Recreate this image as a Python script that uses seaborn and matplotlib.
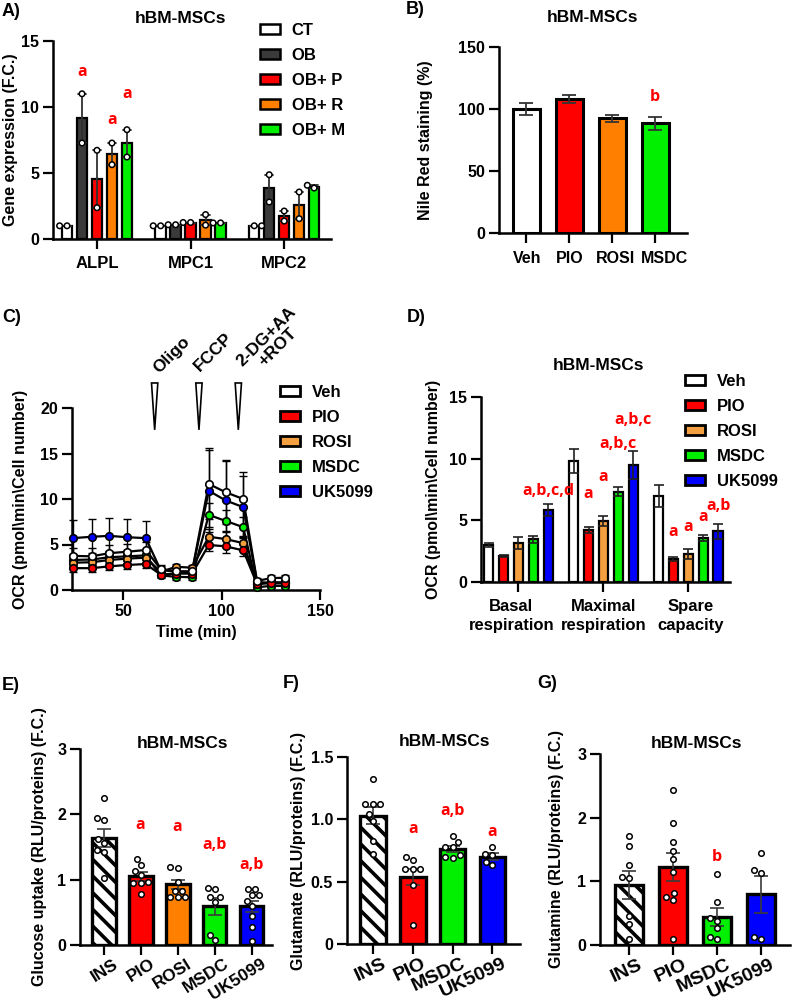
import matplotlib
matplotlib.use('Agg')
import matplotlib.pyplot as plt
import seaborn as sns
import pandas as pd
from matplotlib.patches import Patch
from matplotlib.transforms import ScaledTranslation

# ---------------- data ----------------
# Panel A : gene expression (two replicates per bar)
genes_A = ['ALPL', 'MPC1', 'MPC2']
groups_A = ['CT', 'OB', 'OB+ P', 'OB+ R', 'OB+ M']
colors_A = ['#FFFFFF', '#3A3A3A', '#FF0000', '#FF8000', '#00F000']
ptsA_ALPL = [[1.0, 1.0], [11.0, 7.27], [6.72, 2.37], [7.27, 5.63], [8.28, 6.21]]
ptsA_MPC1 = [[1.0, 1.0], [1.08, 1.08], [1.25, 1.25], [1.85, 1.05], [1.22, 1.22]]
ptsA_MPC2 = [[1.0, 1.0], [4.87, 2.80], [2.12, 1.36], [3.56, 1.54], [3.86, 4.07]]
sigA_groups = ['OB', 'OB+ R', 'OB+ M']
sigA_text = ['a', 'a', 'a']
sigA_y = [12.65, 9.0, 11.0]

# Panel B : Nile red staining
cats_B = ['Veh', 'PIO', 'ROSI', 'MSDC']
colors_B = ['#FFFFFF', '#FF0000', '#FF8000', '#00F000']
means_B = [100.0, 108.0, 92.5, 88.5]
sems_B = [4.5, 3.0, 3.0, 5.2]
sigB_cats = ['MSDC']
sigB_text = ['b']
sigB_y = [109.5]

# Panel C : OCR time course
times_C = [24.5, 34, 43, 52, 61.5, 69, 77, 85, 93.5, 102, 111, 118, 125, 132]
groups_C = ['Veh', 'PIO', 'ROSI', 'MSDC', 'UK5099']
colors_C = ['#FFFFFF', '#FF0000', '#F5A040', '#00F000', '#0000FF']
ocr_veh = [3.75, 3.7, 4.05, 4.2, 4.4, 2.3, 2.05, 2.05, 11.65, 10.75, 10.0, 1.0, 1.3, 1.35]
ocr_pio = [2.4, 2.4, 2.6, 2.75, 2.85, 1.7, 1.8, 1.8, 4.95, 4.8, 4.35, 0.65, 0.75, 0.75]
ocr_rosi = [3.0, 3.05, 3.3, 3.45, 3.55, 2.0, 2.55, 2.45, 5.85, 5.6, 5.15, 0.7, 0.85, 0.85]
ocr_msdc = [3.3, 3.35, 3.6, 3.7, 3.8, 1.6, 1.45, 1.4, 8.25, 7.6, 6.9, 0.3, 0.45, 0.45]
ocr_uk = [5.7, 5.85, 5.95, 5.8, 5.7, 2.2, 2.0, 2.0, 10.9, 9.85, 9.1, 0.9, 0.75, 0.75]
sem_veh = [0.9, 0.9, 0.9, 0.9, 0.9, 0.4, 0.4, 0.4, 3.9, 3.55, 3.0, 0.3, 0.3, 0.3]
sem_pio = [0.4, 0.4, 0.4, 0.4, 0.4, 0.3, 0.3, 0.3, 0.7, 0.7, 0.6, 0.2, 0.2, 0.2]
sem_rosi = [0.5, 0.5, 0.5, 0.5, 0.5, 0.3, 0.3, 0.3, 0.9, 0.9, 0.8, 0.2, 0.2, 0.2]
sem_msdc = [0.7, 0.7, 0.7, 0.7, 0.7, 0.3, 0.3, 0.3, 1.3, 1.2, 1.1, 0.2, 0.2, 0.2]
sem_uk = [2.0, 2.0, 2.0, 2.0, 1.9, 0.4, 0.4, 0.4, 4.5, 4.3, 3.4, 0.3, 0.3, 0.3]
injections_C = [66, 88.5, 108.5]
injection_labels = ['Oligo', 'FCCP', '2-DG+AA\n+ROT']

# Panel D : respiration parameters
params_D = ['Basal\nrespiration', 'Maximal\nrespiration', 'Spare\ncapacity']
groups_D = ['Veh', 'PIO', 'ROSI', 'MSDC', 'UK5099']
colors_D = ['#FFFFFF', '#FF0000', '#F5A040', '#00F000', '#0000FF']
means_D_veh = [3.0, 9.8, 6.95]
means_D_pio = [2.12, 4.2, 1.88]
means_D_rosi = [3.16, 4.95, 2.24]
means_D_msdc = [3.45, 7.32, 3.58]
means_D_uk = [5.86, 9.5, 4.1]
sems_D_veh = [0.2, 0.95, 0.9]
sems_D_pio = [0.1, 0.26, 0.18]
sems_D_rosi = [0.45, 0.37, 0.4]
sems_D_msdc = [0.25, 0.38, 0.27]
sems_D_uk = [0.48, 1.12, 0.62]
sigD_param = [0, 1, 1, 1, 1, 2, 2, 2, 2]
sigD_group = ['UK5099', 'PIO', 'ROSI', 'MSDC', 'UK5099', 'PIO', 'ROSI', 'MSDC', 'UK5099']
sigD_text = ['a,b,c,d', 'a', 'a', 'a,b,c', 'a,b,c', 'a', 'a', 'a', 'a,b']
sigD_y = [7.38, 7.16, 8.5, 11.2, 13.16, 4.05, 4.46, 5.27, 6.13]

# Panel E : glucose uptake
cats_E = ['INS', 'PIO', 'ROSI', 'MSDC', 'UK5099']
colors_E = ['#FFFFFF', '#FF0000', '#FF8000', '#00F000', '#0000FF']
means_E = [1.64, 1.05, 0.93, 0.59, 0.59]
sems_E = [0.14, 0.07, 0.07, 0.13, 0.09]
ptsE_INS = [2.25, 1.94, 1.91, 1.63, 1.56, 1.45, 1.42, 1.03]
ptsE_PIO = [1.31, 1.22, 1.14, 1.07, 0.97, 0.95, 0.95, 0.78]
ptsE_ROSI = [1.18, 1.20, 0.96, 0.83, 0.83, 0.73, 0.73, 0.73]
ptsE_MSDC = [0.88, 0.85, 0.74, 0.74, 0.66, 0.16, 0.08]
ptsE_UK = [0.85, 0.86, 0.76, 0.76, 0.67, 0.59, 0.45, 0.28, 0.06]
sigE_cats = ['PIO', 'ROSI', 'MSDC', 'UK5099']
sigE_text = ['a', 'a', 'a,b', 'a,b']
sigE_y = [1.84, 1.81, 1.53, 1.22]

# Panel F : glutamate
cats_F = ['INS', 'PIO', 'MSDC', 'UK5099']
colors_F = ['#FFFFFF', '#FF0000', '#00F000', '#0000FF']
means_F = [1.03, 0.54, 0.765, 0.70]
sems_F = [0.07, 0.065, 0.025, 0.03]
ptsF_INS = [1.32, 1.12, 1.12, 1.12, 1.04, 0.99, 0.83, 0.72]
ptsF_PIO = [0.70, 0.67, 0.60, 0.60, 0.60, 0.47, 0.15]
ptsF_MSDC = [0.87, 0.82, 0.78, 0.78, 0.69, 0.71, 0.70]
ptsF_UK = [0.78, 0.71, 0.72, 0.63, 0.66]
sigF_cats = ['PIO', 'MSDC', 'UK5099']
sigF_text = ['a', 'a,b', 'a']
sigF_y = [0.92, 1.07, 0.90]

# Panel G : glutamine
cats_G = ['INS', 'PIO', 'MSDC', 'UK5099']
colors_G = ['#FFFFFF', '#FF0000', '#00F000', '#0000FF']
means_G = [0.94, 1.23, 0.44, 0.80]
sems_G = [0.22, 0.22, 0.14, 0.29]
ptsG_INS = [1.71, 1.55, 1.26, 1.07, 1.05, 0.45, 0.33, 0.10]
ptsG_PIO = [2.44, 1.92, 1.62, 1.48, 1.35, 1.14, 0.76, 0.82, 0.71, 0.10]
ptsG_MSDC = [1.11, 0.68, 0.42, 0.38, 0.26, 0.10, 0.13]
ptsG_UK = [1.45, 1.13, 1.18, 0.10, 0.13]
sigG_cats = ['MSDC']
sigG_text = ['b']
sigG_y = [1.38]

# ---------------- style ----------------
sns.set_theme(style='ticks')
plt.rcParams['font.family'] = ['Liberation Sans', 'DejaVu Sans']
plt.rcParams.update({
    'font.weight': 'bold', 'axes.labelweight': 'bold', 'font.size': 11.5,
    'text.color': 'black', 'axes.labelcolor': 'black', 'axes.edgecolor': 'black',
    'xtick.color': 'black', 'ytick.color': 'black', 'hatch.linewidth': 2.6,
    'axes.linewidth': 1.8,
})
FS_TICK = 11.5
FS_LAB = 11.5
FS_TITLE = 12.5
FS_LEG = 12
FS_LET = 13
RED_FONT = dict(family=['Open Sans', 'DejaVu Sans'], fontweight='bold', color='#FF0000', fontsize=11.5,
                ha='center', va='center')

W, H = 793, 1001
fig = plt.figure(figsize=(W / 100, H / 100), dpi=100)


def add_ax(l, t, r, b):
    ax = fig.add_axes([l / W, 1 - b / H, (r - l) / W, (b - t) / H])
    return ax


def shift_label(lab, dx_px, dy_px=0):
    lab.set_transform(lab.get_transform() +
                      ScaledTranslation(dx_px / 100, -dy_px / 100, fig.dpi_scale_trans))


def style(ax, l, r, ylab_x, ylabel):
    sns.despine(ax=ax)
    for s in ['left', 'bottom']:
        ax.spines[s].set_linewidth(1.8)
        ax.spines[s].set_color('black')
    ax.tick_params(axis='both', length=7, width=1.6, pad=3, labelsize=FS_TICK)
    ax.set_ylabel(ylabel, fontsize=FS_LAB, fontweight='bold')
    ax.yaxis.set_label_coords((ylab_x + 8 - l) / (r - l), 0.5)
    ax.set_xlabel('')
    ax.set_facecolor('none')


def ftext(x, y, s, **kw):
    fig.text(x / W, 1 - y / H, s, **kw)


def legend_px(handles, x, y, fs=FS_LEG):
    fig.legend(handles=handles, loc='upper left', bbox_to_anchor=(x / W, 1 - y / H),
               frameon=False, handlelength=1.2, handleheight=0.5, handletextpad=0.7,
               labelspacing=0.6, borderpad=0, borderaxespad=0, fontsize=fs)


# ---------------- Panel A ----------------
lA, rA = 53, 331
axA = add_ax(lA, 41, rA, 239)
rows = []
for gene, pts in zip(genes_A, [ptsA_ALPL, ptsA_MPC1, ptsA_MPC2]):
    for grp, vals in zip(groups_A, pts):
        for v in vals:
            rows.append((gene, grp, v))
dfA = pd.DataFrame(rows, columns=['gene', 'group', 'val'])
palA = dict(zip(groups_A, colors_A))
sns.barplot(data=dfA, x='gene', y='val', hue='group', order=genes_A, hue_order=groups_A,
            palette=palA, saturation=1, errorbar='se', capsize=0.45,
            err_kws={'color': '#303030', 'linewidth': 1.3}, width=0.8, gap=0.3,
            edgecolor='black', linewidth=1.6, legend=False, ax=axA)
sns.swarmplot(data=dfA, x='gene', y='val', hue='group', order=genes_A, hue_order=groups_A,
              dodge=True, palette={g: 'white' for g in groups_A}, edgecolor='black',
              linewidth=1.1, size=4.0, legend=False, ax=axA, zorder=4)
for grp, txt, yv in zip(sigA_groups, sigA_text, sigA_y):
    bar = axA.containers[groups_A.index(grp)][0]
    axA.text(bar.get_x() + bar.get_width() / 2, yv, txt, **RED_FONT)
axA.set_ylim(0, 15)
axA.set_yticks([0, 5, 10, 15])
axA.set_xlim(-0.47, 2.5)
style(axA, lA, rA, 10, 'Gene expression (F.C.)')
axA.tick_params(axis='x', labelsize=12, pad=5)
legend_px([Patch(facecolor=c, edgecolor='black', linewidth=1.8, label=g)
           for g, c in zip(groups_A, colors_A)], 260, 23)
ftext(180, 18, 'hBM-MSCs', ha='center', va='center', fontsize=FS_TITLE, fontweight='bold')
ftext(2, 12, 'A)', ha='left', va='center', fontsize=FS_LET, fontweight='bold')

# ---------------- Panel B ----------------
lB, rB = 499, 687
axB = add_ax(lB, 47, rB, 233)
sns.barplot(x=cats_B, y=means_B, hue=cats_B, palette=colors_B, saturation=1, legend=False,
            width=0.62, edgecolor='black', linewidth=2.2, ax=axB)
xb = [p.get_x() + p.get_width() / 2 for p in axB.patches]
axB.errorbar(xb, means_B, yerr=sems_B, fmt='none', ecolor='#333333', elinewidth=1.3,
             capsize=5, capthick=1.3, zorder=3)
for c, txt, yv in zip(sigB_cats, sigB_text, sigB_y):
    axB.text(xb[cats_B.index(c)], yv, txt, **RED_FONT)
axB.set_ylim(0, 150)
axB.set_yticks([0, 50, 100, 150])
axB.set_xlim(-0.64, 3.74)
style(axB, lB, rB, 425, 'Nile Red staining (%)')
axB.set_xticks(range(len(cats_B)))
axB.set_xticklabels(cats_B)
axB.tick_params(axis='x', pad=6)
for lab, dx in zip(axB.get_xticklabels(), [1, 0, 3, 9]):
    shift_label(lab, dx)
ftext(592, 17, 'hBM-MSCs', ha='center', va='center', fontsize=FS_TITLE, fontweight='bold')
ftext(406, 10, 'B)', ha='left', va='center', fontsize=FS_LET, fontweight='bold')

# ---------------- Panel C ----------------
lC, rC = 72, 320
axC = add_ax(lC, 408, rC, 590)
series = list(zip(groups_C, colors_C, [ocr_veh, ocr_pio, ocr_rosi, ocr_msdc, ocr_uk],
                  [sem_veh, sem_pio, sem_rosi, sem_msdc, sem_uk]))
for name, col, vals, sems in reversed(series):
    axC.errorbar(times_C, vals, yerr=sems, fmt='none', ecolor='black', elinewidth=1.0,
                 capsize=3, capthick=1.0, zorder=2, clip_on=False)
    sns.lineplot(x=times_C, y=vals, color='black', linewidth=1.6, ax=axC, zorder=3)
    axC.plot(times_C, vals, 'o', ms=5.4, mfc=col, mec='black', mew=1.2, zorder=4, clip_on=False)
for tx in injections_C:
    axC.fill([tx - 1.6, tx + 1.6, tx], [22.75, 22.75, 17.6], facecolor='white',
             edgecolor='black', linewidth=1.2, clip_on=False, zorder=5)
axC.set_xlim(24, 150)
axC.set_ylim(0, 20)
axC.set_xticks([50, 100, 150])
axC.set_yticks([0, 5, 10, 15, 20])
style(axC, lC, rC, 20, 'OCR (pmol\\min\\Cell number)')
axC.set_xlabel('Time (min)', fontsize=FS_LAB, fontweight='bold')
axC.xaxis.set_label_coords(0.5, (590 - 625) / 182)
legend_px([Patch(facecolor=c, edgecolor='black', linewidth=2, label=g)
           for g, c in zip(groups_C, colors_C)], 280, 385)
for (cx, cy), lab in zip([(172, 355), (213, 352), (272, 342)], injection_labels):
    ftext(cx, cy, lab, ha='center', va='center', rotation=45, fontsize=12.5,
          fontweight='bold', multialignment='center', linespacing=1.0)
ftext(2, 317, 'C)', ha='left', va='center', fontsize=FS_LET, fontweight='bold')

# ---------------- Panel D ----------------
lD, rD = 481, 730
axD = add_ax(lD, 397, rD, 582)
means_D = [means_D_veh, means_D_pio, means_D_rosi, means_D_msdc, means_D_uk]
sems_D = [sems_D_veh, sems_D_pio, sems_D_rosi, sems_D_msdc, sems_D_uk]
rows = []
for g, m in zip(groups_D, means_D):
    for p, v in zip(params_D, m):
        rows.append((p, g, v))
dfD = pd.DataFrame(rows, columns=['param', 'group', 'val'])
sns.barplot(data=dfD, x='param', y='val', hue='group', order=params_D, hue_order=groups_D,
            palette=dict(zip(groups_D, colors_D)), saturation=1, errorbar=None, width=0.875,
            gap=0.38, edgecolor='black', linewidth=1.6, legend=False, ax=axD)
for cont, m, s in zip(axD.containers, means_D, sems_D):
    xs = [b.get_x() + b.get_width() / 2 for b in cont]
    axD.errorbar(xs, m, yerr=s, fmt='none', ecolor='#202020', elinewidth=1.2,
                 capsize=3.5, capthick=1.2, zorder=3)
for pi, g, txt, yv in zip(sigD_param, sigD_group, sigD_text, sigD_y):
    bar = axD.containers[groups_D.index(g)][pi]
    axD.text(bar.get_x() + bar.get_width() / 2, yv, txt, **RED_FONT)
axD.set_ylim(0, 15)
axD.set_yticks([0, 5, 10, 15])
axD.set_xlim(-0.44, 2.49)
style(axD, lD, rD, 433, 'OCR (pmol\\min\\Cell number)')
axD.set_xticks(range(len(params_D)))
axD.set_xticklabels(params_D, linespacing=1.35, fontsize=12)
axD.tick_params(axis='x', pad=5)
for lab, dx in zip(axD.get_xticklabels(), [-7, 0, 2]):
    shift_label(lab, dx)
legend_px([Patch(facecolor=c, edgecolor='black', linewidth=2, label=g)
           for g, c in zip(groups_D, colors_D)], 685, 374)
ftext(599, 366, 'hBM-MSCs', ha='center', va='center', fontsize=FS_TITLE, fontweight='bold')
ftext(407, 317, 'D)', ha='left', va='center', fontsize=FS_LET, fontweight='bold')


# ---------------- Panels E, F, G ----------------
def dot_panel(l, t, r, b, cats, colors, means, sems, pts, sig_c, sig_t, sig_y,
              ylim, yticks, xlim, ylab_x, ylabel, title_xy, letter, letter_xy,
              rot=25, fs=14):
    ax = add_ax(l, t, r, b)
    sns.barplot(x=cats, y=means, hue=cats, palette=colors, saturation=1, legend=False,
                width=0.64, edgecolor='black', linewidth=2.4, ax=ax)
    xs = [p.get_x() + p.get_width() / 2 for p in ax.patches]
    ax.patches[0].set_hatch('\\\\')
    ax.patches[0].set_facecolor('white')
    ax.errorbar(xs, means, yerr=sems, fmt='none', ecolor='#3A3A3A', elinewidth=1.2,
                capsize=5, capthick=1.2, zorder=3)
    xcat, yval = [], []
    for c, p in zip(cats, pts):
        xcat += [c] * len(p)
        yval += p
    sns.swarmplot(x=xcat, y=yval, order=cats, color='white', edgecolor='black',
                  linewidth=1.1, size=4.0, ax=ax, zorder=4, warn_thresh=1)
    for c, txt, yv in zip(sig_c, sig_t, sig_y):
        ax.text(xs[cats.index(c)], yv, txt, **RED_FONT)
    ax.set_ylim(*ylim)
    ax.set_yticks(yticks)
    ax.set_xlim(*xlim)
    style(ax, l, r, ylab_x, ylabel)
    ax.set_xticks(range(len(cats)))
    ax.set_xticklabels(cats, rotation=rot, ha='right', va='top', rotation_mode='anchor',
                       fontsize=fs)
    ax.tick_params(axis='x', pad=1)
    for lab in ax.get_xticklabels():
        shift_label(lab, 9)
    ftext(title_xy[0], title_xy[1], 'hBM-MSCs', ha='center', va='center', fontsize=FS_TITLE,
          fontweight='bold')
    ftext(letter_xy[0], letter_xy[1], letter, ha='left', va='center', fontsize=FS_LET,
          fontweight='bold')
    return ax


dot_panel(80, 749, 272, 945, cats_E, colors_E, means_E, sems_E,
          [ptsE_INS, ptsE_PIO, ptsE_ROSI, ptsE_MSDC, ptsE_UK], sigE_cats, sigE_text, sigE_y,
          (0, 3), [0, 1, 2, 3], (-0.64, 4.55), 39, 'Glucose uptake (RLU/proteins) (F.C.)',
          (182, 744), 'E)', (2, 685), rot=32, fs=12.5)
axF = dot_panel(347, 757, 520, 944, cats_F, colors_F, means_F, sems_F,
                [ptsF_INS, ptsF_PIO, ptsF_MSDC, ptsF_UK], sigF_cats, sigF_text, sigF_y,
                (0, 1.5), [0, 0.5, 1.0, 1.5], (-0.65, 3.69), 298,
                'Glutamate (RLU/proteins) (F.C.)', (445, 742), 'F)', (283, 683))
axF.set_yticklabels(['0', '0.5', '1.0', '1.5'])
dot_panel(600, 754, 790, 945, cats_G, colors_G, means_G, sems_G,
          [ptsG_INS, ptsG_PIO, ptsG_MSDC, ptsG_UK], sigG_cats, sigG_text, sigG_y,
          (0, 3), [0, 1, 2, 3], (-0.66, 3.66), 556, 'Glutamine (RLU/proteins) (F.C.)',
          (696, 743), 'G)', (537, 683))

fig.savefig('out.png', dpi=100)
